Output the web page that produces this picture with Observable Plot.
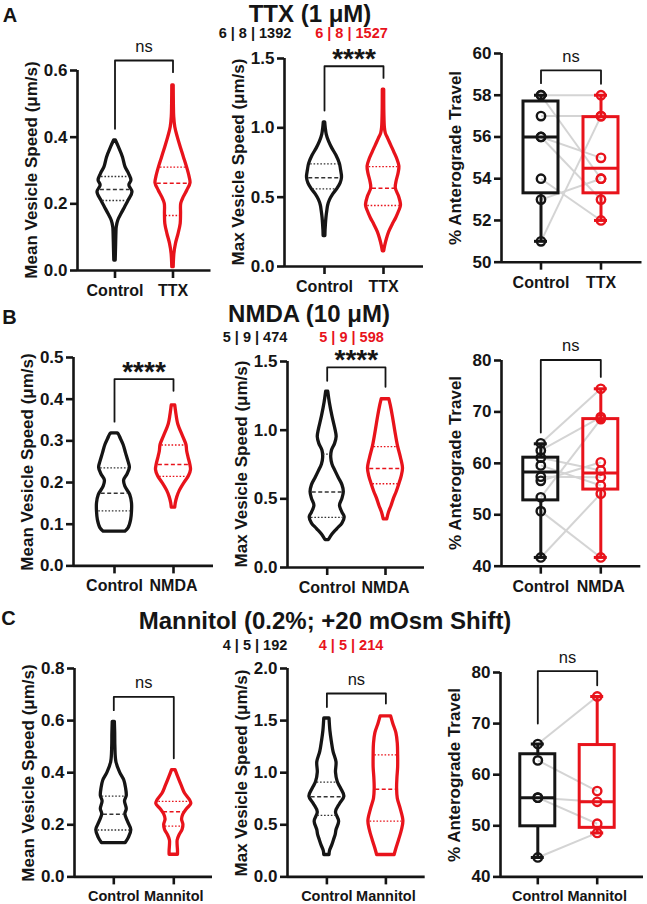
<!DOCTYPE html>
<html><head><meta charset="utf-8">
<script src="https://cdn.jsdelivr.net/npm/d3@7"></script>
<script src="https://cdn.jsdelivr.net/npm/@observablehq/plot@0.6"></script>
<style>
body{margin:0;background:#fff;}
#fig{position:relative;width:647px;height:904px;overflow:hidden;background:#fff;font-family:"Liberation Sans",Arial,Helvetica,sans-serif;color:#151515;}
.t{position:absolute;white-space:nowrap;line-height:1;transform:translate(-50%,-50%);font-weight:bold;}
.yl{position:absolute;white-space:nowrap;line-height:1;font-weight:bold;font-size:17px;transform:translate(-50%,-50%) rotate(-90deg);}
</style></head>
<body><div id="fig"></div>
<script>
// ---------------- DATA ----------------
// Row A: TTX (1 µM)
const ttxGroups = ["Control", "TTX"];
const ttxTitle = "TTX (1 μM)";
const ttxCounts = ["6 | 8 | 1392", "6 | 8 | 1527"];
const ttxMeanTicks = [0, 0.2, 0.4, 0.6];
const ttxMeanControl = [[0.03,0.04],[0.07,0.06],[0.11,0.08],[0.13,0.1],[0.15,0.19],[0.17,0.38],[0.19,0.58],[0.21,0.78],[0.235,1.0],[0.255,0.82],[0.27,0.94],[0.29,0.8],[0.31,0.6],[0.34,0.45],[0.37,0.22],[0.39,0.05]];
const ttxMeanTreated = [[0.01,0.04],[0.05,0.08],[0.08,0.17],[0.11,0.32],[0.14,0.44],[0.17,0.46],[0.20,0.47],[0.22,0.62],[0.24,0.82],[0.262,1.0],[0.28,0.95],[0.31,0.8],[0.34,0.62],[0.37,0.44],[0.40,0.27],[0.43,0.13],[0.46,0.07],[0.50,0.05],[0.555,0.04]];
const ttxMeanQuartiles = [[0.21,0.243,0.282],[0.165,0.262,0.31]];
const ttxMaxTicks = [0, 0.5, 1.0, 1.5];
const ttxMaxControl = [[0.22,0.05],[0.26,0.06],[0.30,0.08],[0.35,0.11],[0.40,0.16],[0.44,0.21],[0.48,0.32],[0.52,0.5],[0.56,0.74],[0.60,0.92],[0.64,1.0],[0.70,0.94],[0.74,0.88],[0.80,0.68],[0.85,0.45],[0.90,0.26],[0.95,0.13],[1.00,0.07],[1.04,0.04]];
const ttxMaxTreated = [[0.11,0.04],[0.15,0.1],[0.20,0.2],[0.25,0.33],[0.30,0.52],[0.35,0.73],[0.40,0.9],[0.44,1.0],[0.50,0.9],[0.565,0.7],[0.62,0.76],[0.67,0.86],[0.72,0.91],[0.77,0.8],[0.82,0.63],[0.87,0.45],[0.92,0.27],[0.96,0.13],[1.0,0.08],[1.1,0.05],[1.275,0.04]];
const ttxMaxQuartiles = [[0.56,0.64,0.74],[0.44,0.565,0.72]];
const ttxTravelTicks = [50, 52, 54, 56, 58, 60];
const ttxTravelControl = [58, 57, 58, 56, 56, 54, 53, 51];
const ttxTravelTreated = [58, 57, 54, 55, 53, 52, 54, 57];
const ttxTravelBoxes = [[51,53.3,56,57.7,58],[52,53.3,54.5,56.95,58]];
const ttxBrackets = [[0.425,0.63,0.595],[1.125,1.444,1.36],[58.58,59.19,58.55]];
const ttxSignif = ["ns", "****", "ns"];

// Row B: NMDA (10 µM)
const nmdaGroups = ["Control", "NMDA"];
const nmdaTitle = "NMDA (10 μM)";
const nmdaCounts = ["5 | 9 | 474", "5 | 9 | 598"];
const nmdaMeanTicks = [0, 0.1, 0.2, 0.3, 0.4, 0.5];
const nmdaMeanControl = [[0.082,0.62],[0.09,0.8],[0.11,0.95],[0.13,1.0],[0.15,1.0],[0.17,0.9],[0.19,0.62],[0.205,0.55],[0.22,0.75],[0.235,0.88],[0.25,0.8],[0.27,0.66],[0.29,0.52],[0.305,0.36],[0.315,0.25],[0.318,0.18]];
const nmdaMeanTreated = [[0.14,0.1],[0.15,0.13],[0.165,0.22],[0.18,0.36],[0.20,0.64],[0.215,0.88],[0.23,1.0],[0.243,0.96],[0.26,0.86],[0.275,0.78],[0.29,0.74],[0.31,0.55],[0.34,0.27],[0.36,0.18],[0.375,0.13],[0.385,0.1]];
const nmdaMeanQuartiles = [[0.132,0.174,0.235],[0.215,0.243,0.29]];
const nmdaMaxTicks = [0, 0.5, 1.0, 1.5];
const nmdaMaxControl = [[0.20,0.1],[0.24,0.3],[0.28,0.58],[0.32,0.87],[0.365,1.0],[0.40,0.87],[0.45,0.73],[0.50,0.87],[0.55,0.95],[0.60,0.87],[0.65,0.67],[0.70,0.48],[0.75,0.3],[0.80,0.23],[0.85,0.27],[0.90,0.45],[0.95,0.54],[1.0,0.48],[1.1,0.3],[1.2,0.15],[1.28,0.06]];
const nmdaMaxTreated = [[0.35,0.1],[0.40,0.2],[0.45,0.35],[0.50,0.48],[0.55,0.64],[0.61,0.8],[0.66,0.92],[0.72,1.0],[0.80,0.88],[0.88,0.72],[1.0,0.55],[1.1,0.42],[1.18,0.3],[1.225,0.22]];
const nmdaMaxQuartiles = [[0.365,0.55,0.825],[0.61,0.72,0.88]];
const nmdaTravelTicks = [40, 50, 60, 70, 80];
const nmdaTravelControl = [63.9, 62.5, 61.1, 59.6, 57.4, 56.6, 53.4, 50.7, 41.7];
const nmdaTravelTreated = [74.5, 69.0, 58.6, 55.7, 57.3, 60.2, 68.6, 41.7, 54.1];
const nmdaTravelBoxes = [[41.7,52.8,58.3,61.1,63.8],[41.7,54.9,58.1,68.6,74.5]];
const nmdaBrackets = [[0.346,0.448,0.42],[1.36,1.457,1.316],[66.0,80.1,76.8]];
const nmdaSignif = ["****", "****", "ns"];

// Row C: Mannitol
const mannGroups = ["Control", "Mannitol"];
const mannTitle = "Mannitol (0.2%; +20 mOsm Shift)";
const mannCounts = ["4 | 5 | 192", "4 | 5 | 214"];
const mannMeanTicks = [0, 0.2, 0.4, 0.6, 0.8];
const mannMeanControl = [[0.13,0.68],[0.15,0.86],[0.18,1.0],[0.21,0.82],[0.24,0.66],[0.26,0.74],[0.29,0.64],[0.31,0.74],[0.34,0.7],[0.37,0.6],[0.40,0.36],[0.44,0.15],[0.50,0.09],[0.55,0.08],[0.595,0.06]];
const mannMeanTreated = [[0.085,0.24],[0.10,0.24],[0.12,0.22],[0.14,0.22],[0.16,0.33],[0.18,0.5],[0.20,0.55],[0.22,0.47],[0.24,0.55],[0.26,0.75],[0.28,1.0],[0.295,0.92],[0.32,0.64],[0.35,0.45],[0.38,0.27],[0.41,0.1]];
const mannMeanQuartiles = [[0.18,0.24,0.31],[0.195,0.25,0.29]];
const mannMaxTicks = [0, 0.5, 1.0, 1.5, 2.0];
const mannMaxControl = [[0.21,0.15],[0.25,0.18],[0.30,0.3],[0.35,0.4],[0.40,0.5],[0.45,0.55],[0.53,0.7],[0.62,0.52],[0.70,0.75],[0.77,1.0],[0.85,0.8],[0.91,0.62],[1.0,0.52],[1.1,0.55],[1.2,0.38],[1.3,0.28],[1.4,0.2],[1.52,0.15]];
const mannMaxTreated = [[0.21,0.5],[0.27,0.6],[0.35,0.75],[0.45,0.92],[0.535,1.0],[0.65,0.85],[0.75,0.68],[0.85,0.64],[0.95,0.66],[1.05,0.7],[1.17,0.7],[1.28,0.68],[1.38,0.6],[1.47,0.42],[1.54,0.3]];
const mannMaxQuartiles = [[0.59,0.77,0.91],[0.535,0.84,1.17]];
const mannTravelTicks = [40, 50, 60, 70, 80];
const mannTravelControl = [66, 62.8, 55.5, 55.5, 43.8];
const mannTravelTreated = [75.3, 56.8, 54.7, 50.4, 48.6];
const mannTravelBoxes = [[43.8,49.9,55.5,64.0,66],[48.6,49.6,54.7,65.8,75.3]];
const mannBrackets = [[0.64,0.691,0.455],[1.63,1.76,1.664],[70.0,80.25,77.5]];
const mannSignif = ["ns", "ns", "ns"];

const yLabels = ["Mean Vesicle Speed (μm/s)", "Max Vesicle Speed (μm/s)", "% Anterograde Travel"];

// ---------------- STYLE / LAYOUT ----------------
const INK = "#151515", RED = "#e8131b", PAIR = "#d4d4d4";
const FONT = '"Liberation Sans", Arial, Helvetica, sans-serif';
const LAYOUT = {
  A: [{left:76.5,right:210,top:70,bottom:270,ctl:114,trt:172},
      {left:284,right:423,top:58,bottom:266,ctl:324,trt:383},
      {left:500.5,right:641,top:53.3,bottom:262,ctl:540,trt:600}],
  B: [{left:73,right:213,top:357.3,bottom:565.7,ctl:114,trt:173},
      {left:287,right:424,top:360.7,bottom:566.7,ctl:326.7,trt:385},
      {left:500.7,right:640,top:360,bottom:565.7,ctl:540,trt:600}],
  C: [{left:74,right:212,top:668.3,bottom:876.7,ctl:113.3,trt:173.3},
      {left:287.3,right:425,top:668.3,bottom:876.7,ctl:326.7,trt:385.7},
      {left:500,right:643,top:672.3,bottom:876.7,ctl:537.3,trt:596.7}]
};
const HEAD = {
  A: {letter:[10,15], title:[310,13.5], counts:[33,255,351.5], tickFont:16},
  B: {letter:[9.5,316.5], title:[309,313.5], counts:[337,255,351.5], tickFont:16},
  C: {letter:[8.5,617.5], title:[325,621], counts:[645,255,351], tickFont:14.5}
};

const fig = document.getElementById("fig");
function addText(cls, txt, x, y, css) {
  const d = document.createElement("div");
  d.className = cls; d.textContent = txt;
  d.style.left = x + "px"; d.style.top = y + "px";
  if (css) Object.assign(d.style, css);
  fig.appendChild(d);
}

function widthAt(rows, v) {
  for (let k = 0; k < rows.length - 1; k++) {
    const a = rows[k], b = rows[k + 1];
    if (v >= a.v && v <= b.v) return a.r + (b.r - a.r) * (v - a.v) / (b.v - a.v);
  }
  return 0;
}

function violinMarks(profiles, quartiles, unit) {
  const W = 17.5 / unit;
  const out = [];
  profiles.forEach((prof, i) => {
    const col = i ? RED : INK;
    const rows = prof.map(([v, r]) => ({v, r})).sort((a, b) => a.v - b.v);
    out.push(Plot.areaX(rows, {y: "v", x1: d => i - W * d.r, x2: d => i + W * d.r,
      fill: "white", stroke: col, strokeWidth: 3.3, strokeLinejoin: "round", curve: "catmull-rom"}));
    const q = quartiles[i].map(v => ({v, r: widthAt(rows, v)}));
    const qc = i ? RED : "#333";
    out.push(Plot.ruleY([q[0], q[2]], {y: "v", x1: d => i - W * d.r * 0.9, x2: d => i + W * d.r * 0.9,
      stroke: qc, strokeWidth: 1.3, strokeDasharray: "1.6,1.8"}));
    out.push(Plot.ruleY([q[1]], {y: "v", x1: d => i - W * d.r * 0.9, x2: d => i + W * d.r * 0.9,
      stroke: qc, strokeWidth: 1.5, strokeDasharray: "4,2.5"}));
  });
  return out;
}

function boxMarks(boxes, control, treated, unit) {
  const BW = 17.5 / unit, CW = 6.5 / unit;
  const pairs = control.map((c, k) => ({c, t: treated[k]}));
  const out = [Plot.link(pairs, {x1: 0, x2: 1, y1: "c", y2: "t", stroke: PAIR, strokeWidth: 2})];
  const vals = [control, treated];
  boxes.forEach((s, i) => {
    const col = i ? RED : INK;
    const [mn, q1, md, q3, mx] = s;
    out.push(Plot.ruleX([i], {x: d => d, y1: mn, y2: q1, stroke: col, strokeWidth: 3}));
    out.push(Plot.ruleX([i], {x: d => d, y1: q3, y2: mx, stroke: col, strokeWidth: 3}));
    out.push(Plot.rect([s], {x1: i - BW, x2: i + BW, y1: q1, y2: q3, fill: "none", stroke: col, strokeWidth: 3}));
    out.push(Plot.ruleY([md], {y: d => d, x1: i - BW, x2: i + BW, stroke: col, strokeWidth: 3}));
    out.push(Plot.ruleY([mn, mx], {y: d => d, x1: i - CW, x2: i + CW, stroke: col, strokeWidth: 3}));
    out.push(Plot.dot(vals[i], {x: i, y: d => d, r: 4.2, stroke: col, strokeWidth: 2.4, fill: "none"}));
  });
  return out;
}

function makePanel(lay, groups, ticks, fmt, bracket, sig, inner, tickFont, ylabel) {
  const unit = lay.trt - lay.ctl;
  const xDomain = [(lay.left - lay.ctl) / unit, (lay.right - lay.ctl) / unit];
  const yDomain = [ticks[0], ticks[ticks.length - 1]];
  const ML = 70, MR = 8, MT = 75, MB = 40;
  const [bl, bt, br] = bracket;
  const isStar = sig.startsWith("*");
  const plot = Plot.plot({
    width: (lay.right - lay.left) + ML + MR,
    height: (lay.bottom - lay.top) + MT + MB,
    marginLeft: ML, marginRight: MR, marginTop: MT, marginBottom: MB,
    style: `background:transparent;overflow:visible;font-family:${FONT};font-weight:bold;color:${INK};`,
    x: {domain: xDomain, label: null},
    y: {domain: yDomain, label: null},
    marks: [
      ...inner(unit),
      Plot.line([{x: 0, y: bl}, {x: 0, y: bt}, {x: 1, y: bt}, {x: 1, y: br}],
        {x: "x", y: "y", stroke: INK, strokeWidth: 1.8}),
      Plot.text([sig], {x: 0.5, y: bt, text: d => d, fill: INK, fontWeight: isStar ? "bold" : "normal",
        fontSize: isStar ? 28 : 16.5, lineAnchor: "middle", dy: isStar ? -7 : -14}),
      Plot.ruleX([xDomain[0]], {x: d => d, y1: yDomain[0], y2: yDomain[1], stroke: INK, strokeWidth: 2.6}),
      Plot.ruleY([yDomain[0]], {y: d => d, x1: xDomain[0], x2: xDomain[1], stroke: INK, strokeWidth: 2.6}),
      Plot.axisY({ticks, tickFormat: fmt, tickSize: 7, tickPadding: 3, stroke: INK, strokeWidth: 2.6,
        fill: INK, fontSize: 17, fontWeight: "bold", label: null}),
      Plot.axisX({ticks: [0, 1], tickFormat: i => groups[i], tickSize: 8, tickPadding: 6, stroke: INK,
        strokeWidth: 2.6, fill: INK, fontSize: tickFont, fontWeight: "bold", label: null})
    ]
  });
  plot.style.position = "absolute";
  plot.style.left = (lay.left - ML) + "px";
  plot.style.top = (lay.top - MT) + "px";
  fig.appendChild(plot);
  addText("yl", ylabel, lay.left - 46, (lay.top + lay.bottom) / 2);
}

const f1 = d3.format(".1f"), f0 = d3.format("d");
const rows = [
  {key: "A", groups: ttxGroups, title: ttxTitle, counts: ttxCounts, brackets: ttxBrackets, signif: ttxSignif,
   mean: [ttxMeanTicks, [ttxMeanControl, ttxMeanTreated], ttxMeanQuartiles],
   max: [ttxMaxTicks, [ttxMaxControl, ttxMaxTreated], ttxMaxQuartiles],
   travel: [ttxTravelTicks, ttxTravelBoxes, ttxTravelControl, ttxTravelTreated]},
  {key: "B", groups: nmdaGroups, title: nmdaTitle, counts: nmdaCounts, brackets: nmdaBrackets, signif: nmdaSignif,
   mean: [nmdaMeanTicks, [nmdaMeanControl, nmdaMeanTreated], nmdaMeanQuartiles],
   max: [nmdaMaxTicks, [nmdaMaxControl, nmdaMaxTreated], nmdaMaxQuartiles],
   travel: [nmdaTravelTicks, nmdaTravelBoxes, nmdaTravelControl, nmdaTravelTreated]},
  {key: "C", groups: mannGroups, title: mannTitle, counts: mannCounts, brackets: mannBrackets, signif: mannSignif,
   mean: [mannMeanTicks, [mannMeanControl, mannMeanTreated], mannMeanQuartiles],
   max: [mannMaxTicks, [mannMaxControl, mannMaxTreated], mannMaxQuartiles],
   travel: [mannTravelTicks, mannTravelBoxes, mannTravelControl, mannTravelTreated]}
];

rows.forEach(r => {
  const lay = LAYOUT[r.key], h = HEAD[r.key];
  makePanel(lay[0], r.groups, r.mean[0], f1, r.brackets[0], r.signif[0],
    u => violinMarks(r.mean[1], r.mean[2], u), h.tickFont, yLabels[0]);
  makePanel(lay[1], r.groups, r.max[0], f1, r.brackets[1], r.signif[1],
    u => violinMarks(r.max[1], r.max[2], u), h.tickFont, yLabels[1]);
  makePanel(lay[2], r.groups, r.travel[0], f0, r.brackets[2], r.signif[2],
    u => boxMarks(r.travel[1], r.travel[2], r.travel[3], u), h.tickFont, yLabels[2]);
  addText("t", r.key, h.letter[0], h.letter[1], {fontSize: "20px"});
  addText("t", r.title, h.title[0], h.title[1], {fontSize: "24px"});
  addText("t", r.counts[0], h.counts[1], h.counts[0], {fontSize: "14.5px", color: INK});
  addText("t", r.counts[1], h.counts[2], h.counts[0], {fontSize: "14.5px", color: RED});
});
</script>
</body></html>
